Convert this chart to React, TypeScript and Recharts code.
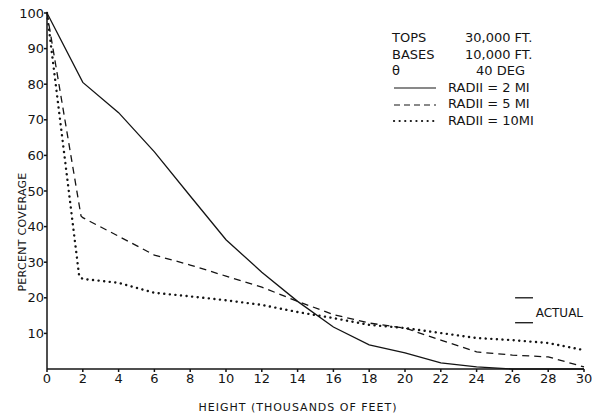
import { LineChart, Line, XAxis, YAxis, ReferenceLine, ReferenceDot, Label } from 'recharts';

// height in thousands of feet, percent coverage
const radii2X = [0, 2, 4, 6, 8, 10, 12, 14, 16, 18, 20, 22, 24, 26, 28, 30];
const radii2Y = [100, 80.5, 72, 61, 48.6, 36.3, 27.2, 19, 11.8, 6.8, 4.5, 1.7, 0.6, 0, 0, 0];

const radii5X = [0, 1.9, 2, 4, 6, 8, 10, 12, 14, 16, 18, 20, 22, 24, 26, 28, 30];
const radii5Y = [100, 43, 42.5, 37.3, 32, 29.2, 26.1, 23, 19, 15.3, 12.9, 11.5, 8.1, 4.8, 3.9, 3.4, 0.6];

const radii10X = [0, 1.8, 2, 4, 6, 8, 10, 12, 14, 16, 18, 20, 22, 24, 26, 28, 30];
const radii10Y = [100, 26, 25.3, 24.2, 21.4, 20.4, 19.3, 18, 16, 14.3, 12.4, 11.5, 10.1, 8.7, 8.1, 7.3, 5.3];

const xTicks = [0, 2, 4, 6, 8, 10, 12, 14, 16, 18, 20, 22, 24, 26, 28, 30];
const yTicks = [10, 20, 30, 40, 50, 60, 70, 80, 90, 100];

const keyLines = ['TOPS', 'BASES', 'θ'];
const keyValues = ['30,000  FT.', '10,000  FT.', '40  DEG'];
const seriesNames = ['RADII = 2 MI', 'RADII = 5 MI', 'RADII = 10MI'];

const toRows = (xs: number[], ys: number[]) => xs.map((x, i) => ({ x, y: ys[i] }));

const INK = '#141414';
const FONT = '"DejaVu Sans", sans-serif';

export default function App() {
  const tickStyle = { fill: INK, fontSize: 13, fontFamily: FONT };
  const dashes = ['0', '7 5', '0.1 5.5'];
  return (
    <div style={{ position: 'absolute', left: 0, top: 0, width: 592, height: 417, background: '#fff' }}>
      <LineChart width={592} height={417} margin={{ top: 13, right: 8, bottom: 18, left: 0 }}>
        <XAxis
          type="number"
          dataKey="x"
          domain={[0, 30]}
          ticks={xTicks}
          interval={0}
          tick={tickStyle}
          tickSize={3}
          tickMargin={2}
          height={30}
          stroke={INK}
          strokeWidth={1.5}
        >
          <Label
            content={() => (
              <text x={298} y={411} textAnchor="middle" fill={INK} fontSize={11} fontFamily={FONT} letterSpacing={1}>
                HEIGHT  (THOUSANDS OF FEET)
              </text>
            )}
          />
        </XAxis>
        <YAxis
          type="number"
          domain={[0, 100]}
          ticks={yTicks}
          interval={0}
          tick={tickStyle}
          tickSize={3}
          tickMargin={0}
          width={47}
          stroke={INK}
          strokeWidth={1.5}
        >
          <Label
            content={() => (
              <text x={22} y={232} transform="rotate(-90 22 232)" textAnchor="middle" dominantBaseline="central" fill={INK} fontSize={11} fontFamily={FONT} letterSpacing={0.3}>
                PERCENT  COVERAGE
              </text>
            )}
          />
        </YAxis>
        <Line data={toRows(radii2X, radii2Y)} dataKey="y" type="linear" stroke={INK} strokeWidth={1.3} dot={false} isAnimationActive={false} />
        <Line data={toRows(radii5X, radii5Y)} dataKey="y" type="linear" stroke={INK} strokeWidth={1.3} strokeDasharray={dashes[1]} dot={false} isAnimationActive={false} />
        <Line data={toRows(radii10X, radii10Y)} dataKey="y" type="linear" stroke={INK} strokeWidth={2.4} strokeLinecap="round" strokeDasharray={dashes[2]} dot={false} isAnimationActive={false} />
        <ReferenceLine segment={[{ x: 26.15, y: 20 }, { x: 27.15, y: 20 }]} stroke={INK} strokeWidth={1.3} />
        <ReferenceLine segment={[{ x: 26.15, y: 13 }, { x: 27.15, y: 13 }]} stroke={INK} strokeWidth={1.3} />
        <ReferenceDot
          x={27.3}
          y={15.8}
          r={0}
          fill="none"
          stroke="none"
          label={{ value: 'ACTUAL', position: 'right', offset: 0, fill: INK, fontSize: 12, fontFamily: FONT }}
        />
      </LineChart>
      <div style={{ position: 'absolute', left: 392, top: 30, fontFamily: FONT, fontSize: 13, color: INK, lineHeight: '16.6px' }}>
        {keyLines.map((k, i) => (
          <div key={k} style={{ display: 'flex' }}>
            <span style={{ width: i === 2 ? 84 : 73 }}>{k}</span>
            <span>{keyValues[i]}</span>
          </div>
        ))}
        {seriesNames.map((n, i) => (
          <div key={n} style={{ display: 'flex', alignItems: 'center' }}>
            <svg width={50} height={10} style={{ marginRight: 6 }}>
              <line x1={2} y1={5} x2={44} y2={5} stroke={INK} strokeWidth={i === 2 ? 2.2 : 1.1} strokeLinecap={i === 2 ? 'round' : 'butt'} strokeDasharray={i === 1 ? '6 4' : dashes[i]} />
            </svg>
            <span>{n}</span>
          </div>
        ))}
      </div>
    </div>
  );
}
